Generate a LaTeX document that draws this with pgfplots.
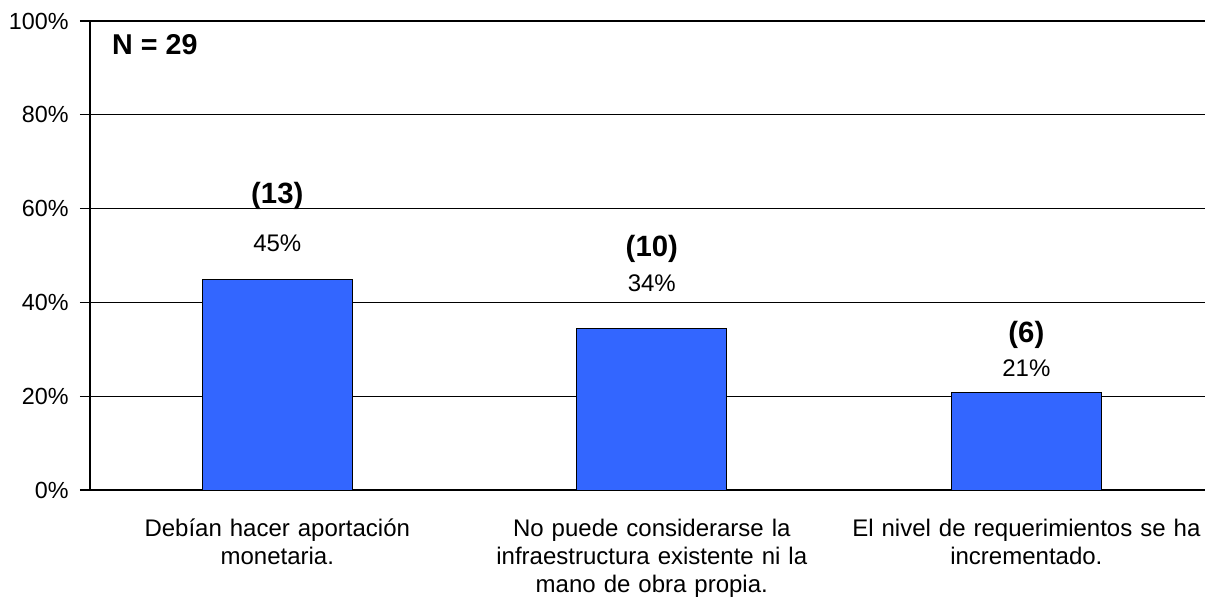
\documentclass[border=0pt]{standalone}
\usepackage{pgfplots}
\pgfplotsset{compat=1.18}
\usepackage{fontspec}
\setmainfont{Liberation Sans}
\definecolor{barblue}{HTML}{3366FF}
\pgfplotstableread{
x y
0 44.83
1 34.48
2 20.69
}\datatable
\begin{document}
\begin{tikzpicture}
\begin{axis}[
  scale only axis,
  width=836.25pt, height=351.75pt,
  xmin=-0.5, xmax=2.477, ymin=0, ymax=100,
  axis lines=left,
  axis line style={-, line width=1.5pt, black},
  clip=false,
  ytick={0,20,40,60,80,100},
  yticklabels={0\%,20\%,40\%,60\%,80\%,100\%},
  ymajorgrids,
  grid style={black, line width=0.9pt},
  tick align=outside,
  major tick length=7.5pt,
  ytick style={black, line width=1pt},
  yticklabel style={font=\fontsize{17.5}{20}\selectfont, xshift=-5pt},
  xtick={0,1,2},
  xticklabels={{Debían hacer aportación\\monetaria.},{No puede considerarse la\\infraestructura existente ni la\\mano de obra propia.},{El nivel de requerimientos se ha\\incrementado.}},
  x tick style={draw=none},
  xticklabel style={font=\fontsize{18}{21.3}\selectfont, align=center, text width=275pt, yshift=-10.5pt},
  extra x ticks={-0.5,0.5,1.5},
  extra x tick labels={},
  extra x tick style={grid=none, tick style={draw=black, line width=1pt}, major tick length=7.5pt},
]
\addplot[ybar, bar width=112.5pt, fill=barblue, draw=black, line width=0.75pt] table[x=x,y=y]{\datatable};
\draw[black, line width=1.5pt] (rel axis cs:0,1) -- (rel axis cs:1,1);
\node[font=\bfseries\fontsize{22}{25}\selectfont] at (axis cs:0,62.6) {(13)};
\node[font=\fontsize{18}{20}\selectfont] at (axis cs:0,52.7) {45\%};
\node[font=\bfseries\fontsize{22}{25}\selectfont] at (axis cs:1,51.3) {(10)};
\node[font=\fontsize{18}{20}\selectfont] at (axis cs:1,44.1) {34\%};
\node[font=\bfseries\fontsize{22}{25}\selectfont] at (axis cs:2,33.1) {(6)};
\node[font=\fontsize{18}{20}\selectfont] at (axis cs:2,26.0) {21\%};
\node[font=\bfseries\fontsize{21.5}{24}\selectfont, anchor=west, inner sep=0pt] at (rel axis cs:0.0197,0.95) {N = 29};
\coordinate (bl) at (rel axis cs:0,0);
\coordinate (tr) at (rel axis cs:1,1);
\end{axis}
\pgfresetboundingbox
\path ([xshift=-67.5pt,yshift=-85.5pt]bl) rectangle ([yshift=15.75pt]tr);
\end{tikzpicture}
\end{document}
